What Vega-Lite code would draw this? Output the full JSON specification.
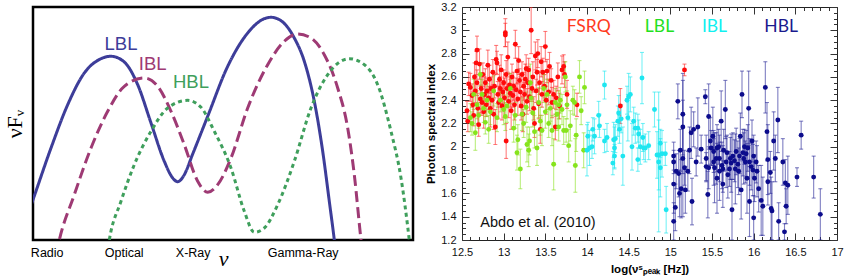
{
  "$schema": "https://vega.github.io/schema/vega-lite/v6.json",
  "padding": {"left": 1, "top": 0, "right": 2, "bottom": 2},
  "spacing": 49,
  "bounds": "flush",
  "config": {"view": {"stroke": null}, "font": "Liberation Sans"},
  "datasets": {
    "sed": [
      {"s":"LBL","x":-5.3,"y":25.3},{"s":"LBL","x":0,"y":40.3},{"s":"LBL","x":18,"y":92},{"s":"LBL","x":34.7,"y":135.3},{"s":"LBL","x":51.3,"y":167},{"s":"LBL","x":68,"y":181.3},{"s":"LBL","x":78,"y":183.7},{"s":"LBL","x":91.3,"y":178},{"s":"LBL","x":104.7,"y":155.3},{"s":"LBL","x":118,"y":117},{"s":"LBL","x":131.3,"y":78.7},{"s":"LBL","x":139.7,"y":62},{"s":"LBL","x":144.7,"y":58.3},{"s":"LBL","x":151.3,"y":65.3},{"s":"LBL","x":159.7,"y":86},{"s":"LBL","x":174.7,"y":123.7},{"s":"LBL","x":194.7,"y":173.7},{"s":"LBL","x":214.7,"y":207},{"s":"LBL","x":231.3,"y":221.3},{"s":"LBL","x":238,"y":222.7},{"s":"LBL","x":248,"y":219.3},{"s":"LBL","x":261.3,"y":202},{"s":"LBL","x":271.3,"y":178.7},{"s":"LBL","x":281.3,"y":138.7},{"s":"LBL","x":289.7,"y":88.7},{"s":"LBL","x":296.3,"y":38.7},{"s":"LBL","x":301.3,"y":0},{"s":"LBL","x":303,"y":-14.7},
      {"s":"IBL","x":23,"y":-14.7},{"s":"IBL","x":26.3,"y":0},{"s":"IBL","x":41.3,"y":45.3},{"s":"IBL","x":58,"y":92},{"s":"IBL","x":74.7,"y":128.7},{"s":"IBL","x":91.3,"y":153.7},{"s":"IBL","x":111.3,"y":162},{"s":"IBL","x":124.7,"y":153.7},{"s":"IBL","x":138,"y":128.7},{"s":"IBL","x":151.3,"y":95.3},{"s":"IBL","x":164.7,"y":58.7},{"s":"IBL","x":174.7,"y":47.7},{"s":"IBL","x":184.7,"y":55.3},{"s":"IBL","x":198,"y":82},{"s":"IBL","x":214.7,"y":132},{"s":"IBL","x":234.7,"y":175.3},{"s":"IBL","x":251.3,"y":198.7},{"s":"IBL","x":264.7,"y":206},{"s":"IBL","x":278,"y":202},{"s":"IBL","x":291.3,"y":185.3},{"s":"IBL","x":304.7,"y":152},{"s":"IBL","x":314.7,"y":112},{"s":"IBL","x":321.3,"y":65.3},{"s":"IBL","x":328,"y":0},{"s":"IBL","x":329.7,"y":-14.7},
      {"s":"HBL","x":74,"y":-14.7},{"s":"HBL","x":76.3,"y":0},{"s":"HBL","x":88,"y":38.7},{"s":"HBL","x":101.3,"y":75.3},{"s":"HBL","x":118,"y":108.7},{"s":"HBL","x":134.7,"y":132},{"s":"HBL","x":154.7,"y":139.7},{"s":"HBL","x":168,"y":132.7},{"s":"HBL","x":181.3,"y":108.7},{"s":"HBL","x":198,"y":72},{"s":"HBL","x":211.3,"y":28.7},{"s":"HBL","x":221.3,"y":7.7},{"s":"HBL","x":231.3,"y":12},{"s":"HBL","x":244.7,"y":35.3},{"s":"HBL","x":261.3,"y":78.7},{"s":"HBL","x":278,"y":132},{"s":"HBL","x":294.7,"y":165.3},{"s":"HBL","x":316.3,"y":181.3},{"s":"HBL","x":331.3,"y":175.3},{"s":"HBL","x":344.7,"y":155.3},{"s":"HBL","x":358,"y":108.7},{"s":"HBL","x":368,"y":62},{"s":"HBL","x":376.3,"y":0},{"s":"HBL","x":378,"y":-14.7}
    ],
    "sedlab": [
      {"s":"LBL","x":88,"y":190.3},{"s":"IBL","x":119.7,"y":170.3},{"s":"HBL","x":158,"y":152}
    ],
    "pts": [
      {"c":"FSRQ","x":12.56,"y":2.31,"e":0.08},{"c":"FSRQ","x":12.57,"y":2.22,"e":0.09},{"c":"FSRQ","x":12.58,"y":2.54,"e":0.1},{"c":"FSRQ","x":12.6,"y":2.51,"e":0.12},{"c":"FSRQ","x":12.62,"y":2.44,"e":0.1},{"c":"FSRQ","x":12.63,"y":2.36,"e":0.11},{"c":"FSRQ","x":12.64,"y":2.27,"e":0.09},{"c":"FSRQ","x":12.65,"y":2.6,"e":0.12},{"c":"FSRQ","x":12.66,"y":2.48,"e":0.1},{"c":"FSRQ","x":12.67,"y":2.72,"e":0.1},
      {"c":"FSRQ","x":12.68,"y":2.83,"e":0.12},{"c":"FSRQ","x":12.68,"y":2.55,"e":0.11},{"c":"FSRQ","x":12.69,"y":2.33,"e":0.13},{"c":"FSRQ","x":12.7,"y":2.19,"e":0.1},{"c":"FSRQ","x":12.71,"y":2.71,"e":0.13},{"c":"FSRQ","x":12.72,"y":2.41,"e":0.12},{"c":"FSRQ","x":12.73,"y":2.5,"e":0.1},{"c":"FSRQ","x":12.74,"y":2.38,"e":0.11},{"c":"FSRQ","x":12.75,"y":2.62,"e":0.1},{"c":"FSRQ","x":12.76,"y":2.3,"e":0.14},
      {"c":"FSRQ","x":12.77,"y":2.45,"e":0.15},{"c":"FSRQ","x":12.78,"y":2.55,"e":0.12},{"c":"FSRQ","x":12.79,"y":2.36,"e":0.1},{"c":"FSRQ","x":12.8,"y":2.48,"e":0.11},{"c":"FSRQ","x":12.81,"y":2.7,"e":0.13},{"c":"FSRQ","x":12.82,"y":2.42,"e":0.1},{"c":"FSRQ","x":12.83,"y":2.58,"e":0.12},{"c":"FSRQ","x":12.84,"y":2.33,"e":0.16},{"c":"FSRQ","x":12.85,"y":2.5,"e":0.1},{"c":"FSRQ","x":12.86,"y":2.4,"e":0.12},
      {"c":"FSRQ","x":12.87,"y":2.64,"e":0.11},{"c":"FSRQ","x":12.88,"y":2.28,"e":0.13},{"c":"FSRQ","x":12.89,"y":2.52,"e":0.1},{"c":"FSRQ","x":12.9,"y":2.17,"e":0.15},{"c":"FSRQ","x":12.91,"y":2.75,"e":0.12},{"c":"FSRQ","x":12.92,"y":2.72,"e":0.1},{"c":"FSRQ","x":12.93,"y":2.45,"e":0.11},{"c":"FSRQ","x":12.94,"y":2.38,"e":0.14},{"c":"FSRQ","x":12.95,"y":2.58,"e":0.12},{"c":"FSRQ","x":12.96,"y":2.5,"e":0.1},
      {"c":"FSRQ","x":12.97,"y":2.66,"e":0.13},{"c":"FSRQ","x":12.98,"y":2.35,"e":0.12},{"c":"FSRQ","x":12.99,"y":2.47,"e":0.1},{"c":"FSRQ","x":13.0,"y":2.55,"e":0.11},{"c":"FSRQ","x":13.01,"y":2.42,"e":0.17},{"c":"FSRQ","x":13.02,"y":2.98,"e":0.12},{"c":"FSRQ","x":13.02,"y":2.96,"e":0.1},{"c":"FSRQ","x":13.03,"y":2.05,"e":0.15},{"c":"FSRQ","x":13.03,"y":2.62,"e":0.12},{"c":"FSRQ","x":13.04,"y":2.5,"e":0.1},
      {"c":"FSRQ","x":13.05,"y":2.77,"e":0.13},{"c":"FSRQ","x":13.06,"y":2.39,"e":0.14},{"c":"FSRQ","x":13.07,"y":2.53,"e":0.1},{"c":"FSRQ","x":13.08,"y":2.46,"e":0.12},{"c":"FSRQ","x":13.09,"y":2.31,"e":0.16},{"c":"FSRQ","x":13.1,"y":2.6,"e":0.11},{"c":"FSRQ","x":13.11,"y":2.44,"e":0.1},{"c":"FSRQ","x":13.12,"y":2.52,"e":0.12},{"c":"FSRQ","x":13.13,"y":2.36,"e":0.13},{"c":"FSRQ","x":13.14,"y":2.88,"e":0.12},
      {"c":"FSRQ","x":13.15,"y":2.49,"e":0.1},{"c":"FSRQ","x":13.16,"y":2.65,"e":0.11},{"c":"FSRQ","x":13.17,"y":2.41,"e":0.14},{"c":"FSRQ","x":13.18,"y":2.74,"e":0.12},{"c":"FSRQ","x":13.19,"y":2.57,"e":0.1},{"c":"FSRQ","x":13.2,"y":2.47,"e":0.13},{"c":"FSRQ","x":13.21,"y":2.35,"e":0.12},{"c":"FSRQ","x":13.22,"y":2.62,"e":0.11},{"c":"FSRQ","x":13.23,"y":2.28,"e":0.15},{"c":"FSRQ","x":13.24,"y":2.52,"e":0.12},
      {"c":"FSRQ","x":13.25,"y":2.45,"e":0.1},{"c":"FSRQ","x":13.26,"y":2.58,"e":0.13},{"c":"FSRQ","x":13.27,"y":2.67,"e":0.12},{"c":"FSRQ","x":13.28,"y":2.39,"e":0.11},{"c":"FSRQ","x":13.29,"y":2.55,"e":0.14},{"c":"FSRQ","x":13.3,"y":2.66,"e":0.1},{"c":"FSRQ","x":13.31,"y":2.43,"e":0.12},{"c":"FSRQ","x":13.33,"y":3.0,"e":0.2},{"c":"FSRQ","x":13.34,"y":2.5,"e":0.11},{"c":"FSRQ","x":13.35,"y":2.6,"e":0.13},
      {"c":"FSRQ","x":13.36,"y":2.33,"e":0.1},{"c":"FSRQ","x":13.37,"y":2.2,"e":0.12},{"c":"FSRQ","x":13.38,"y":2.78,"e":0.12},{"c":"FSRQ","x":13.39,"y":2.48,"e":0.1},{"c":"FSRQ","x":13.4,"y":2.64,"e":0.11},{"c":"FSRQ","x":13.41,"y":2.8,"e":0.12},{"c":"FSRQ","x":13.42,"y":2.37,"e":0.13},{"c":"FSRQ","x":13.43,"y":2.55,"e":0.1},{"c":"FSRQ","x":13.44,"y":2.15,"e":0.12},{"c":"FSRQ","x":13.45,"y":2.73,"e":0.13},
      {"c":"FSRQ","x":13.46,"y":2.45,"e":0.11},{"c":"FSRQ","x":13.47,"y":2.64,"e":0.12},{"c":"FSRQ","x":13.49,"y":2.52,"e":0.1},{"c":"FSRQ","x":13.5,"y":2.86,"e":0.13},{"c":"FSRQ","x":13.51,"y":2.4,"e":0.12},{"c":"FSRQ","x":13.52,"y":2.65,"e":0.1},{"c":"FSRQ","x":13.54,"y":2.47,"e":0.11},{"c":"FSRQ","x":13.55,"y":2.69,"e":0.12},{"c":"FSRQ","x":13.57,"y":2.57,"e":0.1},{"c":"FSRQ","x":13.58,"y":2.38,"e":0.13},
      {"c":"FSRQ","x":13.6,"y":2.45,"e":0.12},{"c":"FSRQ","x":13.62,"y":2.17,"e":0.11},{"c":"FSRQ","x":13.63,"y":2.42,"e":0.1},{"c":"FSRQ","x":13.65,"y":2.6,"e":0.12},{"c":"FSRQ","x":13.67,"y":2.35,"e":0.11},{"c":"FSRQ","x":13.7,"y":2.66,"e":0.12},{"c":"FSRQ","x":13.72,"y":2.69,"e":0.1},{"c":"FSRQ","x":13.73,"y":2.62,"e":0.11},{"c":"FSRQ","x":13.76,"y":2.45,"e":0.12},{"c":"FSRQ","x":13.88,"y":2.36,"e":0.1},
      {"c":"FSRQ","x":14.4,"y":2.35,"e":0.15},
      {"c":"LBL","x":12.6,"y":2.25,"e":0.12},{"c":"LBL","x":12.62,"y":2.2,"e":0.1},{"c":"LBL","x":12.64,"y":2.45,"e":0.13},{"c":"LBL","x":12.66,"y":2.12,"e":0.15},{"c":"LBL","x":12.68,"y":2.36,"e":0.12},{"c":"LBL","x":12.7,"y":2.27,"e":0.11},{"c":"LBL","x":12.72,"y":2.62,"e":0.1},{"c":"LBL","x":12.74,"y":2.45,"e":0.13},{"c":"LBL","x":12.76,"y":2.33,"e":0.12},{"c":"LBL","x":12.78,"y":2.21,"e":0.1},
      {"c":"LBL","x":12.8,"y":2.4,"e":0.14},{"c":"LBL","x":12.82,"y":2.15,"e":0.12},{"c":"LBL","x":12.84,"y":2.3,"e":0.11},{"c":"LBL","x":12.88,"y":2.48,"e":0.13},{"c":"LBL","x":12.92,"y":2.25,"e":0.12},{"c":"LBL","x":12.96,"y":2.4,"e":0.1},{"c":"LBL","x":13.0,"y":2.32,"e":0.13},{"c":"LBL","x":13.02,"y":2.26,"e":0.12},{"c":"LBL","x":13.04,"y":2.35,"e":0.14},{"c":"LBL","x":13.08,"y":2.5,"e":0.13},
      {"c":"LBL","x":13.12,"y":2.16,"e":0.12},{"c":"LBL","x":13.14,"y":2.27,"e":0.11},{"c":"LBL","x":13.16,"y":1.95,"e":0.15},{"c":"LBL","x":13.17,"y":2.06,"e":0.13},{"c":"LBL","x":13.2,"y":1.81,"e":0.17},{"c":"LBL","x":13.22,"y":2.28,"e":0.14},{"c":"LBL","x":13.24,"y":2.2,"e":0.12},{"c":"LBL","x":13.27,"y":2.34,"e":0.13},{"c":"LBL","x":13.28,"y":2.02,"e":0.15},{"c":"LBL","x":13.3,"y":1.97,"e":0.14},
      {"c":"LBL","x":13.31,"y":2.05,"e":0.12},{"c":"LBL","x":13.32,"y":2.55,"e":0.16},{"c":"LBL","x":13.33,"y":2.42,"e":0.13},{"c":"LBL","x":13.35,"y":2.29,"e":0.12},{"c":"LBL","x":13.37,"y":2.13,"e":0.14},{"c":"LBL","x":13.4,"y":1.99,"e":0.15},{"c":"LBL","x":13.42,"y":2.38,"e":0.13},{"c":"LBL","x":13.44,"y":2.22,"e":0.12},{"c":"LBL","x":13.46,"y":2.14,"e":0.13},{"c":"LBL","x":13.48,"y":2.5,"e":0.12},
      {"c":"LBL","x":13.5,"y":2.3,"e":0.14},{"c":"LBL","x":13.52,"y":2.45,"e":0.13},{"c":"LBL","x":13.54,"y":2.2,"e":0.12},{"c":"LBL","x":13.56,"y":2.33,"e":0.11},{"c":"LBL","x":13.58,"y":2.14,"e":0.13},{"c":"LBL","x":13.6,"y":1.85,"e":0.22},{"c":"LBL","x":13.62,"y":2.38,"e":0.12},{"c":"LBL","x":13.64,"y":2.28,"e":0.14},{"c":"LBL","x":13.66,"y":2.17,"e":0.12},{"c":"LBL","x":13.68,"y":2.4,"e":0.11},
      {"c":"LBL","x":13.7,"y":2.32,"e":0.13},{"c":"LBL","x":13.72,"y":2.14,"e":0.12},{"c":"LBL","x":13.74,"y":2.6,"e":0.13},{"c":"LBL","x":13.76,"y":2.36,"e":0.12},{"c":"LBL","x":13.78,"y":2.01,"e":0.14},{"c":"LBL","x":13.8,"y":2.18,"e":0.13},{"c":"LBL","x":13.83,"y":2.4,"e":0.12},{"c":"LBL","x":13.85,"y":2.38,"e":0.11},{"c":"LBL","x":13.87,"y":2.1,"e":0.14},{"c":"LBL","x":13.86,"y":1.84,"e":0.23},
      {"c":"LBL","x":13.91,"y":2.6,"e":0.14},{"c":"LBL","x":13.93,"y":2.31,"e":0.12},{"c":"LBL","x":13.96,"y":1.97,"e":0.15},{"c":"LBL","x":13.97,"y":2.51,"e":0.14},{"c":"LBL","x":13.75,"y":2.14,"e":0.1},{"c":"LBL","x":13.66,"y":2.36,"e":0.12},
      {"c":"IBL","x":14.0,"y":1.97,"e":0.22},{"c":"IBL","x":14.01,"y":2.09,"e":0.12},{"c":"IBL","x":14.03,"y":1.99,"e":0.15},{"c":"IBL","x":14.06,"y":2.0,"e":0.1},{"c":"IBL","x":14.07,"y":2.15,"e":0.1},{"c":"IBL","x":14.09,"y":2.09,"e":0.15},{"c":"IBL","x":14.14,"y":2.27,"e":0.12},{"c":"IBL","x":14.15,"y":2.18,"e":0.1},{"c":"IBL","x":14.21,"y":2.53,"e":0.12},{"c":"IBL","x":14.21,"y":2.05,"e":0.1},
      {"c":"IBL","x":14.24,"y":2.08,"e":0.12},{"c":"IBL","x":14.31,"y":1.86,"e":0.1},{"c":"IBL","x":14.32,"y":2.06,"e":0.15},{"c":"IBL","x":14.33,"y":1.99,"e":0.18},{"c":"IBL","x":14.33,"y":1.92,"e":0.1},{"c":"IBL","x":14.34,"y":2.07,"e":0.12},{"c":"IBL","x":14.37,"y":2.22,"e":0.13},{"c":"IBL","x":14.38,"y":2.29,"e":0.15},{"c":"IBL","x":14.39,"y":2.15,"e":0.12},{"c":"IBL","x":14.41,"y":2.24,"e":0.12},
      {"c":"IBL","x":14.43,"y":1.92,"e":0.25},{"c":"IBL","x":14.48,"y":2.4,"e":0.12},{"c":"IBL","x":14.49,"y":2.25,"e":0.2},{"c":"IBL","x":14.5,"y":2.43,"e":0.2},{"c":"IBL","x":14.52,"y":2.45,"e":0.15},{"c":"IBL","x":14.54,"y":2.0,"e":0.2},{"c":"IBL","x":14.56,"y":2.22,"e":0.12},{"c":"IBL","x":14.58,"y":2.16,"e":0.13},{"c":"IBL","x":14.61,"y":2.16,"e":0.12},{"c":"IBL","x":14.61,"y":1.89,"e":0.1},
      {"c":"IBL","x":14.62,"y":2.11,"e":0.12},{"c":"IBL","x":14.64,"y":2.0,"e":0.15},{"c":"IBL","x":14.66,"y":2.59,"e":0.22},{"c":"IBL","x":14.67,"y":2.08,"e":0.12},{"c":"IBL","x":14.68,"y":1.99,"e":0.1},{"c":"IBL","x":14.7,"y":1.99,"e":0.12},{"c":"IBL","x":14.74,"y":2.01,"e":0.12},{"c":"IBL","x":14.81,"y":2.32,"e":0.15},{"c":"IBL","x":14.84,"y":1.93,"e":0.2},{"c":"IBL","x":14.86,"y":1.93,"e":0.3},
      {"c":"IBL","x":14.86,"y":1.87,"e":0.6},{"c":"IBL","x":14.88,"y":2.03,"e":0.12},{"c":"IBL","x":14.88,"y":1.82,"e":0.25},{"c":"IBL","x":14.9,"y":1.94,"e":0.2},{"c":"IBL","x":14.94,"y":1.94,"e":0.1},{"c":"IBL","x":14.95,"y":1.46,"e":0.2},
      {"c":"HBL","x":15.04,"y":1.92,"e":0.12},{"c":"HBL","x":15.04,"y":1.87,"e":0.1},{"c":"HBL","x":15.04,"y":1.68,"e":0.25},{"c":"HBL","x":15.04,"y":1.36,"e":0.16},{"c":"HBL","x":15.06,"y":1.48,"e":0.2},{"c":"HBL","x":15.07,"y":1.79,"e":0.15},{"c":"HBL","x":15.09,"y":2.39,"e":0.15},{"c":"HBL","x":15.1,"y":1.77,"e":0.2},{"c":"HBL","x":15.11,"y":1.6,"e":0.2},{"c":"HBL","x":15.12,"y":1.97,"e":0.18},
      {"c":"HBL","x":15.13,"y":1.64,"e":0.25},{"c":"HBL","x":15.15,"y":2.28,"e":0.35},{"c":"HBL","x":15.15,"y":2.17,"e":0.4},{"c":"HBL","x":15.15,"y":1.9,"e":0.5},{"c":"HBL","x":15.17,"y":1.82,"e":0.15},{"c":"HBL","x":15.18,"y":1.63,"e":0.2},{"c":"HBL","x":15.21,"y":1.79,"e":0.17},{"c":"HBL","x":15.23,"y":1.97,"e":0.2},{"c":"HBL","x":15.25,"y":2.12,"e":0.22},{"c":"HBL","x":15.26,"y":1.53,"e":0.2},
      {"c":"HBL","x":15.28,"y":2.15,"e":0.15},{"c":"HBL","x":15.31,"y":1.87,"e":0.12},{"c":"HBL","x":15.33,"y":2.17,"e":0.25},{"c":"HBL","x":15.37,"y":1.98,"e":0.12},{"c":"HBL","x":15.42,"y":2.43,"e":0.06},{"c":"HBL","x":15.43,"y":1.83,"e":0.12},{"c":"HBL","x":15.43,"y":1.9,"e":0.2},{"c":"HBL","x":15.45,"y":1.59,"e":0.2},{"c":"HBL","x":15.46,"y":2.26,"e":0.28},{"c":"HBL","x":15.46,"y":1.82,"e":0.18},
      {"c":"HBL","x":15.48,"y":2.05,"e":0.2},{"c":"HBL","x":15.49,"y":1.99,"e":0.15},{"c":"HBL","x":15.51,"y":2.09,"e":0.25},{"c":"HBL","x":15.52,"y":1.96,"e":0.18},{"c":"HBL","x":15.53,"y":1.82,"e":0.3},{"c":"HBL","x":15.55,"y":1.9,"e":0.22},{"c":"HBL","x":15.56,"y":1.73,"e":0.3},{"c":"HBL","x":15.56,"y":1.99,"e":0.2},{"c":"HBL","x":15.59,"y":1.79,"e":0.25},{"c":"HBL","x":15.59,"y":1.9,"e":0.2},
      {"c":"HBL","x":15.61,"y":2.22,"e":0.26},{"c":"HBL","x":15.63,"y":1.81,"e":0.2},{"c":"HBL","x":15.63,"y":1.68,"e":0.2},{"c":"HBL","x":15.64,"y":1.97,"e":0.18},{"c":"HBL","x":15.66,"y":2.32,"e":0.25},{"c":"HBL","x":15.67,"y":1.87,"e":0.22},{"c":"HBL","x":15.69,"y":1.76,"e":0.2},{"c":"HBL","x":15.71,"y":1.81,"e":0.15},{"c":"HBL","x":15.73,"y":1.86,"e":0.25},{"c":"HBL","x":15.74,"y":1.46,"e":0.26},
      {"c":"HBL","x":15.75,"y":1.92,"e":0.2},{"c":"HBL","x":15.77,"y":1.88,"e":0.18},{"c":"HBL","x":15.78,"y":1.81,"e":0.3},{"c":"HBL","x":15.81,"y":1.85,"e":0.2},{"c":"HBL","x":15.83,"y":1.92,"e":0.15},{"c":"HBL","x":15.84,"y":2.09,"e":0.2},{"c":"HBL","x":15.85,"y":1.63,"e":0.25},{"c":"HBL","x":15.86,"y":2.45,"e":0.2},{"c":"HBL","x":15.87,"y":1.95,"e":0.2},{"c":"HBL","x":15.88,"y":1.9,"e":0.22},
      {"c":"HBL","x":15.9,"y":1.87,"e":0.18},{"c":"HBL","x":15.92,"y":1.73,"e":0.3},{"c":"HBL","x":15.93,"y":1.99,"e":0.2},{"c":"HBL","x":15.94,"y":2.33,"e":0.32},{"c":"HBL","x":15.95,"y":1.53,"e":0.3},{"c":"HBL","x":15.95,"y":1.87,"e":0.2},{"c":"HBL","x":15.97,"y":1.83,"e":0.2},{"c":"HBL","x":15.98,"y":2.05,"e":0.18},{"c":"HBL","x":15.99,"y":1.8,"e":0.22},{"c":"HBL","x":16.0,"y":1.39,"e":0.19},
      {"c":"HBL","x":16.01,"y":1.73,"e":0.2},{"c":"HBL","x":16.03,"y":1.87,"e":0.18},{"c":"HBL","x":16.04,"y":1.79,"e":0.22},{"c":"HBL","x":16.06,"y":1.64,"e":0.2},{"c":"HBL","x":16.09,"y":1.54,"e":0.3},{"c":"HBL","x":16.11,"y":1.49,"e":0.25},{"c":"HBL","x":16.14,"y":2.51,"e":0.22},{"c":"HBL","x":16.16,"y":2.13,"e":0.25},{"c":"HBL","x":16.17,"y":1.89,"e":0.3},{"c":"HBL","x":16.17,"y":1.7,"e":0.2},
      {"c":"HBL","x":16.2,"y":1.78,"e":0.18},{"c":"HBL","x":16.21,"y":1.47,"e":0.27},{"c":"HBL","x":16.22,"y":1.45,"e":0.25},{"c":"HBL","x":16.24,"y":2.05,"e":0.25},{"c":"HBL","x":16.26,"y":1.9,"e":0.2},{"c":"HBL","x":16.29,"y":2.23,"e":0.28},{"c":"HBL","x":16.3,"y":1.36,"e":0.16},{"c":"HBL","x":16.35,"y":1.87,"e":0.2},{"c":"HBL","x":16.37,"y":1.27,"e":0.07},{"c":"HBL","x":16.38,"y":1.69,"e":0.2},
      {"c":"HBL","x":16.39,"y":1.49,"e":0.15},{"c":"HBL","x":16.41,"y":1.67,"e":0.25},{"c":"HBL","x":16.52,"y":1.74,"e":0.08},{"c":"HBL","x":16.57,"y":2.1,"e":0.12},{"c":"HBL","x":16.72,"y":1.74,"e":0.18},{"c":"HBL","x":16.8,"y":1.42,"e":0.22},
      {"c":"HBL","x":15.58,"y":2.0,"e":0.15},{"c":"HBL","x":15.68,"y":1.95,"e":0.15},{"c":"HBL","x":15.79,"y":1.96,"e":0.2},{"c":"HBL","x":15.89,"y":2.0,"e":0.15},{"c":"HBL","x":15.62,"y":1.84,"e":0.2},{"c":"HBL","x":15.72,"y":1.9,"e":0.18},{"c":"HBL","x":15.52,"y":1.87,"e":0.2},{"c":"HBL","x":15.82,"y":1.79,"e":0.2},{"c":"HBL","x":15.91,"y":1.94,"e":0.2},{"c":"HBL","x":16.0,"y":1.92,"e":0.18},
      {"c":"FSRQ","x":15.17,"y":2.66,"e":0.05}
    ],
    "cat": [
      {"t":"FSRQ","x":14.02,"y":2.985},{"t":"LBL","x":14.87,"y":2.985},{"t":"IBL","x":15.53,"y":2.985},{"t":"HBL","x":16.33,"y":2.985}
    ],
    "note": [
      {"t":"Abdo et al. (2010)","x":12.72,"y":1.31}
    ]
  },
  "hconcat": [
    {
      "width": 380,
      "height": 233,
      "view": {"stroke": "#000000", "strokeWidth": 2.5},
      "layer": [
        {
          "data": {"name": "sed"},
          "mark": {"type": "line", "interpolate": "monotone", "strokeWidth": 3, "clip": true, "strokeCap": "butt"},
          "encoding": {
            "x": {"field": "x", "type": "quantitative", "scale": {"domain": [0, 380], "nice": false, "zero": false},
              "axis": {"values": [13.7, 90.7, 159.7, 269.7], "labelExpr": "datum.value < 50 ? 'Radio' : datum.value < 120 ? 'Optical' : datum.value < 200 ? 'X-Ray' : 'Gamma-Ray'", "ticks": false, "domain": false, "grid": false, "labelFont": "Liberation Sans", "labelFontSize": 12.5, "labelColor": "#000000", "labelPadding": 6, "labelFlush": false, "labelOverlap": false, "title": "ν", "titleFont": "Liberation Serif", "titleFontSize": 22, "titleFontWeight": "normal", "titleFontStyle": "italic", "titleColor": "#000000", "titleX": 190, "titleY": 25, "titleBaseline": "alphabetic", "titleAlign": "center"}},
            "y": {"field": "y", "type": "quantitative", "scale": {"domain": [0, 233], "nice": false, "zero": false},
              "axis": {"labels": false, "ticks": false, "domain": false, "grid": false, "title": "νFᵥ", "titleFont": "Liberation Serif", "titleFontSize": 22, "titleFontWeight": "normal", "titleColor": "#000000", "titlePadding": 7}},
            "color": {"field": "s", "type": "nominal", "scale": {"domain": ["LBL", "IBL", "HBL"], "range": ["#3d3d99", "#9e3a74", "#3f9f5c"]}, "legend": null},
            "strokeDash": {"field": "s", "type": "nominal", "scale": {"domain": ["LBL", "IBL", "HBL"], "range": [[1, 0], [11, 5], [4, 3.5]]}, "legend": null}
          }
        },
        {
          "data": {"name": "sedlab"},
          "mark": {"type": "text", "font": "Liberation Sans", "fontSize": 18.5, "baseline": "alphabetic", "align": "center"},
          "encoding": {
            "x": {"field": "x", "type": "quantitative"},
            "y": {"field": "y", "type": "quantitative"},
            "text": {"field": "s"},
            "color": {"field": "s", "type": "nominal", "legend": null}
          }
        }
      ]
    },
    {
      "width": 375,
      "height": 233,
      "view": {"stroke": "#222222", "strokeWidth": 1},
      "resolve": {"axis": {"x": "independent", "y": "independent"}, "scale": {"color": "independent"}},
      "layer": [
        {
          "data": {"name": "pts"},
          "mark": {"type": "errorbar", "ticks": {"clip": true}, "rule": {"clip": true}, "size": 4, "thickness": 1.1, "opacity": 0.6, "clip": true},
          "encoding": {
            "x": {"field": "x", "type": "quantitative", "scale": {"domain": [12.5, 17], "nice": false, "zero": false},
              "axis": {"orient": "bottom", "values": [12.5, 13, 13.5, 14, 14.5, 15, 15.5, 16, 16.5, 17], "format": "~g", "tickSize": -7, "tickColor": "#333333", "labelPadding": 13, "labelFlush": false, "labelOverlap": false, "domain": false, "grid": false, "labelFont": "Liberation Sans", "labelFontSize": 11, "labelColor": "#111111", "title": "log(νˢₚₑₐₖ [Hz])", "titleFont": "Liberation Sans", "titleFontSize": 11.5, "titleFontWeight": "bold", "titleColor": "#000000", "titlePadding": 6}},
            "y": {"field": "y", "type": "quantitative", "scale": {"domain": [1.2, 3.2], "nice": false, "zero": false},
              "axis": {"orient": "left", "values": [1.2, 1.4, 1.6, 1.8, 2, 2.2, 2.4, 2.6, 2.8, 3, 3.2], "format": "~g", "tickSize": -7, "tickColor": "#333333", "labelPadding": 13, "labelFlush": false, "labelOverlap": false, "domain": false, "grid": false, "labelFont": "Liberation Sans", "labelFontSize": 11, "labelColor": "#111111", "title": "Photon spectral index", "titleFont": "Liberation Sans", "titleFontSize": 11.5, "titleFontWeight": "bold", "titleColor": "#000000", "titlePadding": 4}},
            "yError": {"field": "e"},
            "color": {"field": "c", "type": "nominal", "scale": {"domain": ["FSRQ", "LBL", "IBL", "HBL"], "range": ["#ff2a2a", "#8fe22a", "#20e8f0", "#2a2a99"]}, "legend": null}
          }
        },
        {
          "data": {"name": "pts"},
          "mark": {"type": "point", "filled": true, "size": 24, "opacity": 1, "shape": "circle"},
          "encoding": {
            "x": {"field": "x", "type": "quantitative",
              "axis": {"orient": "bottom", "values": [12.6,12.7,12.8,12.9,13.1,13.2,13.3,13.4,13.6,13.7,13.8,13.9,14.1,14.2,14.3,14.4,14.6,14.7,14.8,14.9,15.1,15.2,15.3,15.4,15.6,15.7,15.8,15.9,16.1,16.2,16.3,16.4,16.6,16.7,16.8,16.9], "labels": false, "tickSize": -3.5, "tickColor": "#333333", "domain": false, "grid": false, "title": null}},
            "y": {"field": "y", "type": "quantitative",
              "axis": {"orient": "left", "values": [1.25,1.3,1.35,1.45,1.5,1.55,1.65,1.7,1.75,1.85,1.9,1.95,2.05,2.1,2.15,2.25,2.3,2.35,2.45,2.5,2.55,2.65,2.7,2.75,2.85,2.9,2.95,3.05,3.1,3.15], "labels": false, "tickSize": -3.5, "tickColor": "#333333", "domain": false, "grid": false, "title": null}},
            "color": {"field": "c", "type": "nominal", "scale": {"domain": ["FSRQ", "LBL", "IBL", "HBL"], "range": ["#ff0a0a", "#86e41c", "#1ee6f0", "#0c0c8c"]}, "legend": null}
          }
        },
        {
          "data": {"name": "cat"},
          "mark": {"type": "text", "font": "Lato", "fontSize": 17.5, "baseline": "alphabetic", "align": "center"},
          "encoding": {
            "x": {"field": "x", "type": "quantitative",
              "axis": {"orient": "top", "values": [12.5, 13, 13.5, 14, 14.5, 15, 15.5, 16, 16.5, 17], "labels": false, "tickSize": -7, "tickColor": "#333333", "domain": false, "grid": false, "title": null}},
            "y": {"field": "y", "type": "quantitative",
              "axis": {"orient": "right", "values": [1.2, 1.4, 1.6, 1.8, 2, 2.2, 2.4, 2.6, 2.8, 3, 3.2], "labels": false, "tickSize": -7, "tickColor": "#333333", "domain": false, "grid": false, "title": null}},
            "text": {"field": "t"},
            "color": {"field": "t", "type": "nominal", "scale": {"domain": ["FSRQ", "LBL", "IBL", "HBL"], "range": ["#ff3b1e", "#22e022", "#10f0f0", "#1a1a8e"]}, "legend": null}
          }
        },
        {
          "data": {"name": "note"},
          "mark": {"type": "text", "font": "Liberation Sans", "fontSize": 14.5, "baseline": "alphabetic", "align": "left", "color": "#111111"},
          "encoding": {
            "x": {"field": "x", "type": "quantitative",
              "axis": {"orient": "top", "values": [12.6,12.7,12.8,12.9,13.1,13.2,13.3,13.4,13.6,13.7,13.8,13.9,14.1,14.2,14.3,14.4,14.6,14.7,14.8,14.9,15.1,15.2,15.3,15.4,15.6,15.7,15.8,15.9,16.1,16.2,16.3,16.4,16.6,16.7,16.8,16.9], "labels": false, "tickSize": -3.5, "tickColor": "#333333", "domain": false, "grid": false, "title": null}},
            "y": {"field": "y", "type": "quantitative",
              "axis": {"orient": "right", "values": [1.25,1.3,1.35,1.45,1.5,1.55,1.65,1.7,1.75,1.85,1.9,1.95,2.05,2.1,2.15,2.25,2.3,2.35,2.45,2.5,2.55,2.65,2.7,2.75,2.85,2.9,2.95,3.05,3.1,3.15], "labels": false, "tickSize": -3.5, "tickColor": "#333333", "domain": false, "grid": false, "title": null}},
            "text": {"field": "t"}
          }
        }
      ]
    }
  ]
}
